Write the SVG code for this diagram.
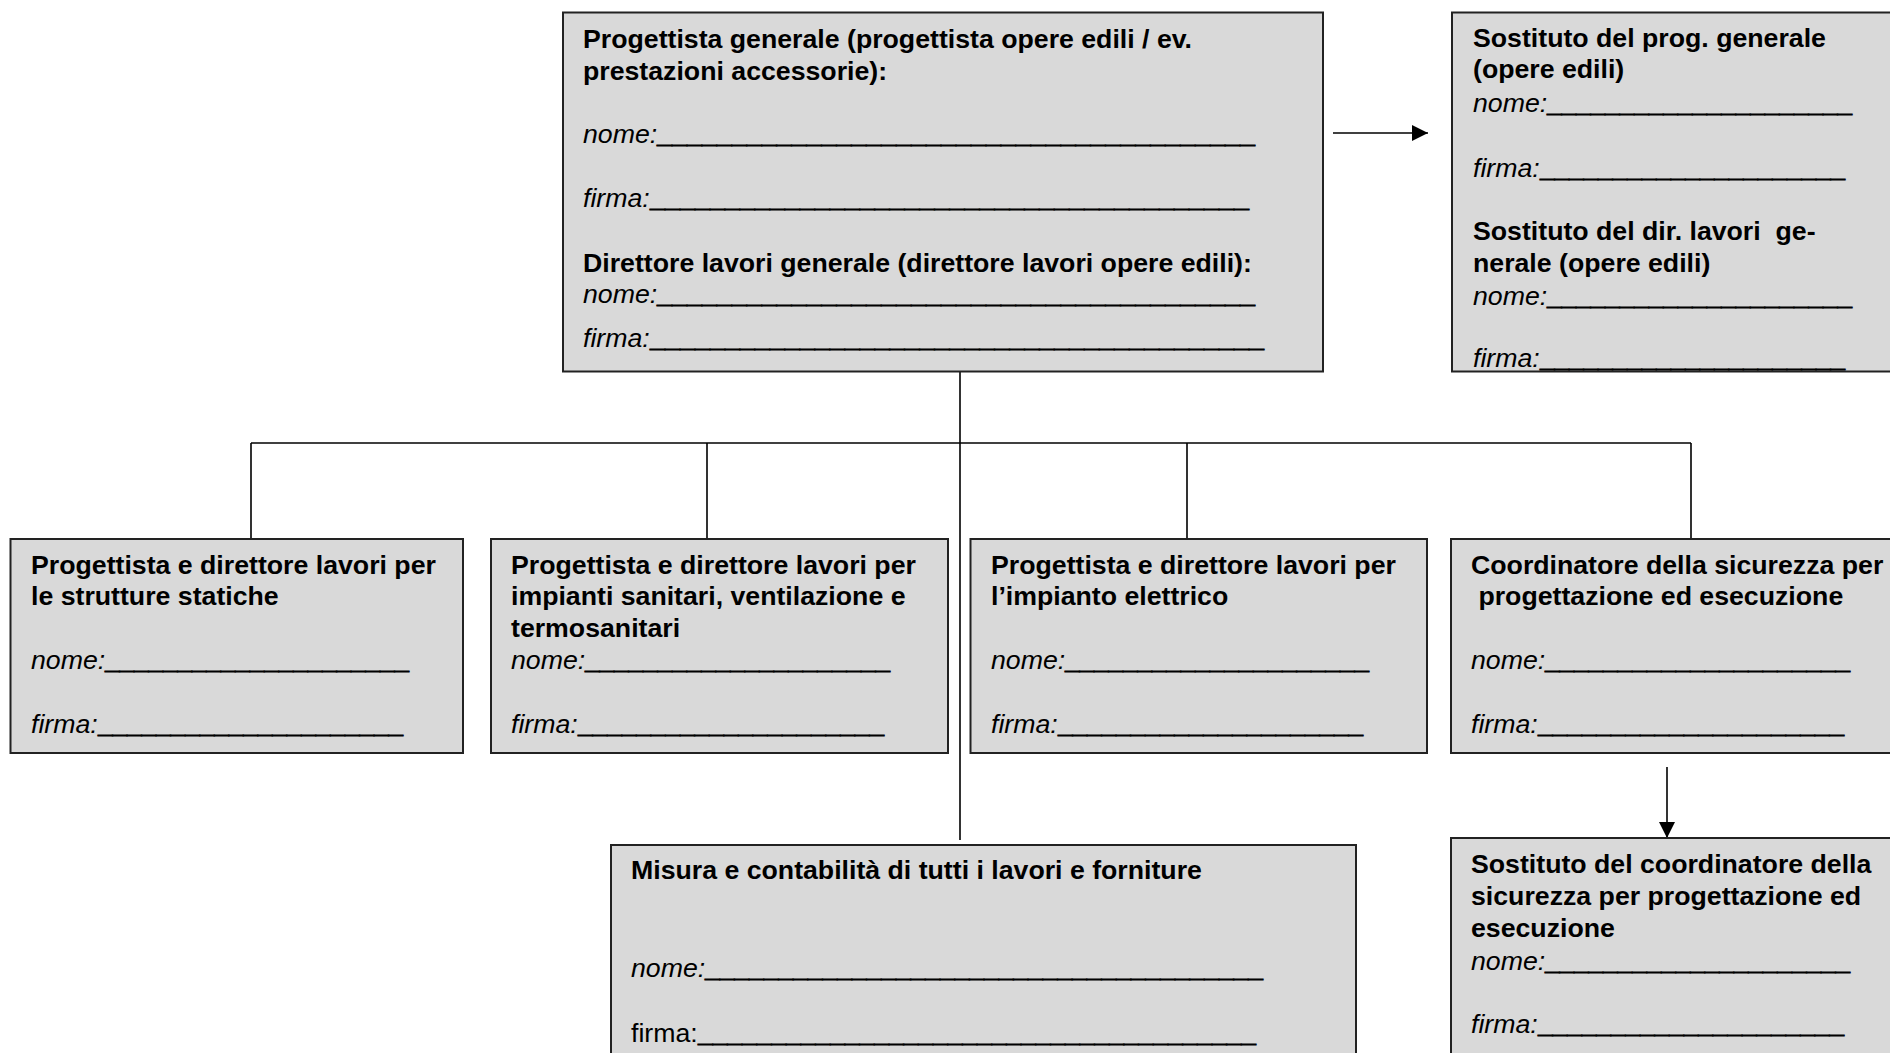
<svg xmlns="http://www.w3.org/2000/svg" width="1890" height="1053" viewBox="0 0 1890 1053">
<defs>
<style>
.box{fill:#d9d9d9;stroke:#222;stroke-width:2}
.b{font-family:"Liberation Sans",Arial,sans-serif;font-size:26.7px;font-weight:bold;fill:#000}
.i{font-family:"Liberation Sans",Arial,sans-serif;font-size:26.7px;font-style:italic;fill:#000}
.r{font-family:"Liberation Sans",Arial,sans-serif;font-size:26.7px;fill:#000}
.u{font-family:"Liberation Sans",Arial,sans-serif;font-size:26.7px;font-weight:bold;fill:#000;stroke:#000;stroke-width:0.9}
.pre{white-space:pre}
.c{fill:none;stroke:#000;stroke-width:1.6}
</style>
<marker id="ah" viewBox="0 0 16 16" refX="16" refY="8" markerWidth="16" markerHeight="16" markerUnits="userSpaceOnUse" orient="auto">
<path d="M0,0 L16,8 L0,16 z" fill="#000"/>
</marker>
</defs>
<rect width="1890" height="1053" fill="#fff"/>

<g id="connectors">
<path class="c" d="M960,371 V840"/>
<path class="c" d="M251,443 H1691"/>
<path class="c" d="M251,443 V539 M707,443 V539 M1187,443 V539 M1691,443 V539"/>
<path class="c" d="M1333,133 H1428" marker-end="url(#ah)"/>
<path class="c" d="M1667,767 V838" marker-end="url(#ah)"/>
</g>

<g id="node-progettista-generale">
<rect class="box" x="563" y="12.5" width="760" height="359"/>
<text class="b" x="583" y="48">Progettista generale (progettista opere edili / ev.</text>
<text class="b" x="583" y="80">prestazioni accessorie):</text>
<text class="i" x="583" y="143">nome:</text>
<text class="u" x="657" y="143" textLength="598" lengthAdjust="spacingAndGlyphs">________________________________________</text>
<text class="i" x="583" y="207">firma:</text>
<text class="u" x="650" y="207" textLength="599" lengthAdjust="spacingAndGlyphs">________________________________________</text>
<text class="b" x="583" y="272">Direttore lavori generale (direttore lavori opere edili):</text>
<text class="i" x="583" y="303">nome:</text>
<text class="u" x="657" y="303" textLength="598" lengthAdjust="spacingAndGlyphs">________________________________________</text>
<text class="i" x="583" y="347">firma:</text>
<text class="u" x="650" y="347" textLength="614" lengthAdjust="spacingAndGlyphs">_________________________________________</text>
</g>

<g id="node-sostituti-generali">
<rect class="box" x="1452" y="12.5" width="460" height="359"/>
<text class="b" x="1473" y="47">Sostituto del prog. generale</text>
<text class="b" x="1473" y="78">(opere edili)</text>
<text class="i" x="1473" y="112">nome:</text>
<text class="u" x="1547" y="112" textLength="305" lengthAdjust="spacingAndGlyphs">_____________________</text>
<text class="i" x="1473" y="177">firma:</text>
<text class="u" x="1540" y="177" textLength="305" lengthAdjust="spacingAndGlyphs">_____________________</text>
<text class="b pre" x="1473" y="240">Sostituto del dir. lavori  ge-</text>
<text class="b" x="1473" y="272">nerale (opere edili)</text>
<text class="i" x="1473" y="305">nome:</text>
<text class="u" x="1547" y="305" textLength="305" lengthAdjust="spacingAndGlyphs">_____________________</text>
<text class="i" x="1473" y="367">firma:</text>
<text class="u" x="1540" y="367" textLength="305" lengthAdjust="spacingAndGlyphs">_____________________</text>
</g>

<g id="node-strutture-statiche">
<rect class="box" x="10.5" y="539" width="452.5" height="214"/>
<text class="b" x="31" y="574">Progettista e direttore lavori per</text>
<text class="b" x="31" y="605">le strutture statiche</text>
<text class="i" x="31" y="669">nome:</text>
<text class="u" x="105" y="669" textLength="304" lengthAdjust="spacingAndGlyphs">_____________________</text>
<text class="i" x="31" y="733">firma:</text>
<text class="u" x="98" y="733" textLength="305" lengthAdjust="spacingAndGlyphs">_____________________</text>
</g>

<g id="node-impianti-sanitari">
<rect class="box" x="491" y="539" width="457" height="214"/>
<text class="b" x="511" y="574">Progettista e direttore lavori per</text>
<text class="b" x="511" y="605">impianti sanitari, ventilazione e</text>
<text class="b" x="511" y="637">termosanitari</text>
<text class="i" x="511" y="669">nome:</text>
<text class="u" x="585" y="669" textLength="305" lengthAdjust="spacingAndGlyphs">_____________________</text>
<text class="i" x="511" y="733">firma:</text>
<text class="u" x="578" y="733" textLength="306" lengthAdjust="spacingAndGlyphs">_____________________</text>
</g>

<g id="node-impianto-elettrico">
<rect class="box" x="970.5" y="539" width="456.5" height="214"/>
<text class="b" x="991" y="574">Progettista e direttore lavori per</text>
<text class="b" x="991" y="605">l’impianto elettrico</text>
<text class="i" x="991" y="669">nome:</text>
<text class="u" x="1065" y="669" textLength="304" lengthAdjust="spacingAndGlyphs">_____________________</text>
<text class="i" x="991" y="733">firma:</text>
<text class="u" x="1058" y="733" textLength="305" lengthAdjust="spacingAndGlyphs">_____________________</text>
</g>

<g id="node-coordinatore-sicurezza">
<rect class="box" x="1451" y="539" width="460" height="214"/>
<text class="b" x="1471" y="574">Coordinatore della sicurezza per</text>
<text class="b pre" x="1471" y="605"> progettazione ed esecuzione</text>
<text class="i" x="1471" y="669">nome:</text>
<text class="u" x="1545" y="669" textLength="305" lengthAdjust="spacingAndGlyphs">_____________________</text>
<text class="i" x="1471" y="733">firma:</text>
<text class="u" x="1538" y="733" textLength="306" lengthAdjust="spacingAndGlyphs">_____________________</text>
</g>

<g id="node-misura-contabilita">
<rect class="box" x="611" y="845" width="745" height="230"/>
<text class="b" x="631" y="879">Misura e contabilità di tutti i lavori e forniture</text>
<text class="i" x="631" y="977">nome:</text>
<text class="u" x="705" y="977" textLength="558" lengthAdjust="spacingAndGlyphs">______________________________________</text>
<text class="r" x="631" y="1042">firma:</text>
<text class="u" x="698" y="1042" textLength="558" lengthAdjust="spacingAndGlyphs">______________________________________</text>
</g>

<g id="node-sostituto-coordinatore">
<rect class="box" x="1451" y="838" width="460" height="240"/>
<text class="b" x="1471" y="873">Sostituto del coordinatore della</text>
<text class="b" x="1471" y="905">sicurezza per progettazione ed</text>
<text class="b" x="1471" y="937">esecuzione</text>
<text class="i" x="1471" y="970">nome:</text>
<text class="u" x="1545" y="970" textLength="305" lengthAdjust="spacingAndGlyphs">_____________________</text>
<text class="i" x="1471" y="1033">firma:</text>
<text class="u" x="1538" y="1033" textLength="306" lengthAdjust="spacingAndGlyphs">_____________________</text>
</g>
</svg>
